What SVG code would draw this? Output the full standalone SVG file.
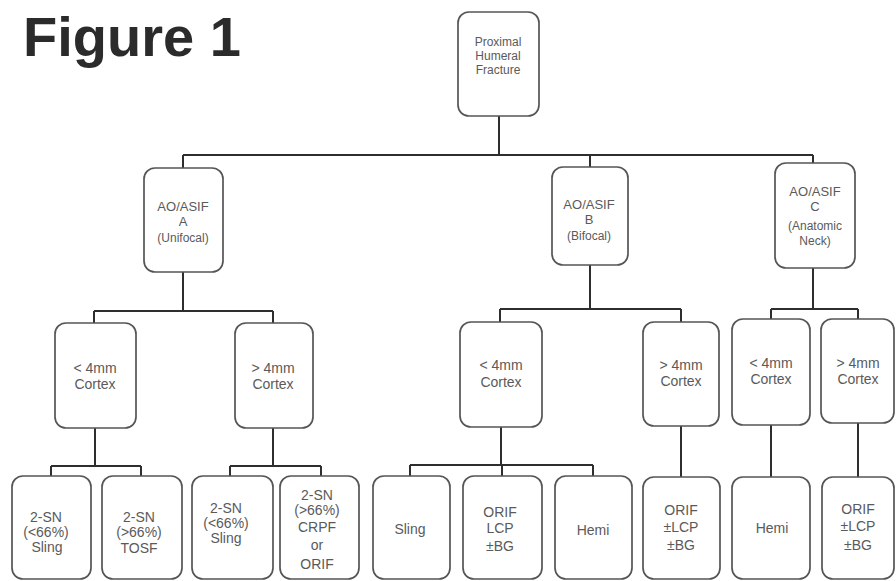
<svg xmlns="http://www.w3.org/2000/svg" width="896" height="581" viewBox="0 0 896 581">
<style>
.box{fill:#fff;stroke:#555;stroke-width:1.7}
.t{font-family:"Liberation Sans",Arial,sans-serif;font-size:14px;fill:#5a5a5a;text-anchor:middle}
.tm{font-family:"Liberation Sans",Arial,sans-serif;font-size:13px;fill:#5a5a5a;text-anchor:middle}
.ts{font-family:"Liberation Sans",Arial,sans-serif;font-size:12px;fill:#5a5a5a;text-anchor:middle}
.c{fill:none;stroke:#2e2e2e;stroke-width:2}
</style>
<rect width="896" height="581" fill="#fff"/>
<text x="23" y="56" font-family="Liberation Sans,Arial,sans-serif" font-weight="bold" font-size="56" fill="#2b2b2b">Figure 1</text>
<g id="connectors">
<path class="c" d="M499 116V155M183 155H813M183 155V168M590 155V167M813 155V163"/>
<path class="c" d="M183 272V311M94 311H273M94 311V323M273 311V323"/>
<path class="c" d="M590 265V309M500 309H681M500 309V322M681 309V322"/>
<path class="c" d="M813 268V309M771 309H858M771 309V319M858 309V319"/>
<path class="c" d="M95 428V466M51 466H141M51 466V476M141 466V476"/>
<path class="c" d="M273 428V466M230 466H321M230 466V476M321 466V476"/>
<path class="c" d="M501 427V465M410 465H593M410 465V476M502 465V476M593 465V476"/>
<path class="c" d="M681 426V477M771 425V477M858 423V477"/>
</g>
<g id="root"><rect class="box" x="458" y="12" width="81" height="104" rx="11"/>
<text class="ts" x="498" y="46">Proximal</text><text class="ts" x="498" y="60">Humeral</text><text class="ts" x="498" y="74">Fracture</text></g>
<g id="aoA"><rect class="box" x="144" y="168" width="79" height="104" rx="11"/>
<text class="tm" x="183" y="211">AO/ASIF</text><text class="tm" x="183" y="226">A</text><text class="ts" x="183" y="242">(Unifocal)</text></g>
<g id="aoB"><rect class="box" x="552" y="167" width="76" height="98" rx="11"/>
<text class="tm" x="589" y="209">AO/ASIF</text><text class="tm" x="589" y="224">B</text><text class="ts" x="589" y="240">(Bifocal)</text></g>
<g id="aoC"><rect class="box" x="775" y="163" width="80" height="105" rx="11"/>
<text class="tm" x="815" y="196">AO/ASIF</text><text class="tm" x="815" y="211">C</text><text class="ts" x="815" y="230">(Anatomic</text><text class="ts" x="815" y="245">Neck)</text></g>
<g id="aLt"><rect class="box" x="55" y="323" width="81" height="105" rx="11"/>
<text class="t" x="95" y="373">&lt; 4mm</text><text class="t" x="95" y="389">Cortex</text></g>
<g id="aGt"><rect class="box" x="235" y="323" width="78" height="105" rx="11"/>
<text class="t" x="273" y="373">&gt; 4mm</text><text class="t" x="273" y="389">Cortex</text></g>
<g id="bLt"><rect class="box" x="460" y="322" width="82" height="105" rx="11"/>
<text class="t" x="501" y="370">&lt; 4mm</text><text class="t" x="501" y="387">Cortex</text></g>
<g id="bGt"><rect class="box" x="643" y="322" width="76" height="104" rx="11"/>
<text class="t" x="681" y="370">&gt; 4mm</text><text class="t" x="681" y="386">Cortex</text></g>
<g id="cLt"><rect class="box" x="732" y="319" width="78" height="106" rx="11"/>
<text class="t" x="771" y="368">&lt; 4mm</text><text class="t" x="771" y="384">Cortex</text></g>
<g id="cGt"><rect class="box" x="821" y="319" width="73" height="104" rx="11"/>
<text class="t" x="858" y="368">&gt; 4mm</text><text class="t" x="858" y="384">Cortex</text></g>
<g id="l1"><rect class="box" x="12" y="476" width="79" height="103" rx="11"/>
<text class="t" x="46" y="522">2-SN</text><text class="t" x="46" y="537">(&lt;66%)</text><text class="t" x="47" y="552">Sling</text></g>
<g id="l2"><rect class="box" x="102" y="476" width="80" height="103" rx="11"/>
<text class="t" x="139" y="522">2-SN</text><text class="t" x="139" y="537">(&gt;66%)</text><text class="t" x="139" y="553">TOSF</text></g>
<g id="l3"><rect class="box" x="192" y="476" width="81" height="103" rx="11"/>
<text class="t" x="226" y="513">2-SN</text><text class="t" x="226" y="528">(&lt;66%)</text><text class="t" x="226" y="543">Sling</text></g>
<g id="l4"><rect class="box" x="280" y="476" width="79" height="103" rx="11"/>
<text class="t" x="317" y="500">2-SN</text><text class="t" x="317" y="515">(&gt;66%)</text><text class="t" x="317" y="532">CRPF</text><text class="t" x="317" y="550">or</text><text class="t" x="317" y="569">ORIF</text></g>
<g id="l5"><rect class="box" x="373" y="476" width="77" height="103" rx="11"/>
<text class="t" x="410" y="534">Sling</text></g>
<g id="l6"><rect class="box" x="463" y="476" width="79" height="103" rx="11"/>
<text class="t" x="500" y="517">ORIF</text><text class="t" x="500" y="533">LCP</text><text class="t" x="500" y="551">±BG</text></g>
<g id="l7"><rect class="box" x="555" y="476" width="77" height="103" rx="11"/>
<text class="t" x="593" y="535">Hemi</text></g>
<g id="l8"><rect class="box" x="643" y="477" width="77" height="102" rx="11"/>
<text class="t" x="681" y="515">ORIF</text><text class="t" x="681" y="532">±LCP</text><text class="t" x="681" y="550">±BG</text></g>
<g id="l9"><rect class="box" x="732" y="477" width="78" height="102" rx="11"/>
<text class="t" x="772" y="533">Hemi</text></g>
<g id="l10"><rect class="box" x="822" y="477" width="72" height="102" rx="11"/>
<text class="t" x="858" y="514">ORIF</text><text class="t" x="858" y="531">±LCP</text><text class="t" x="858" y="550">±BG</text></g>
</svg>
